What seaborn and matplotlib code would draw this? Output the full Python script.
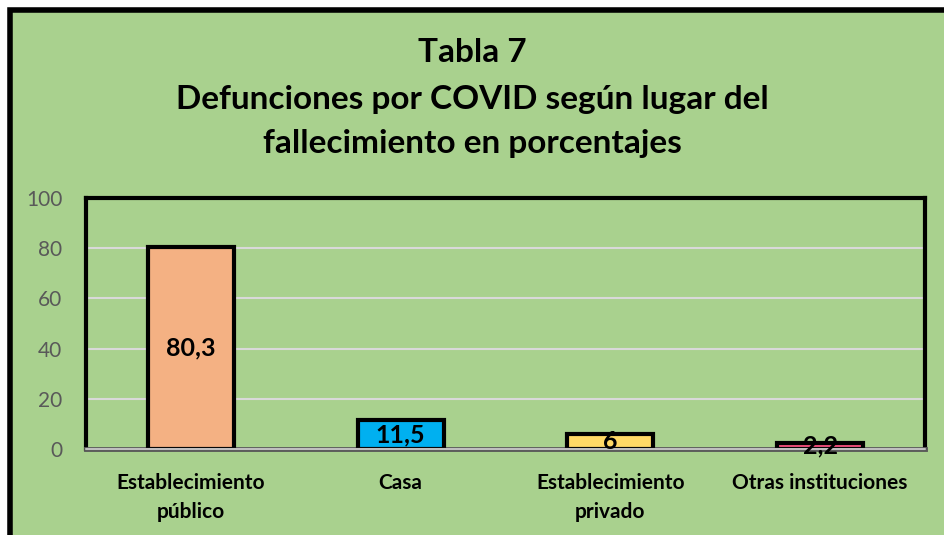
import matplotlib
matplotlib.use("Agg")
import matplotlib.pyplot as plt
import seaborn as sns
import pandas as pd
from matplotlib.patches import Rectangle

sns.set_theme(style="white")
plt.rcParams["font.family"] = ["Lato", "DejaVu Sans"]
plt.rcParams["text.color"] = "black"

# ------------------------------
# Data
# ------------------------------
categories = ["Establecimiento\npúblico", "Casa", "Establecimiento\nprivado", "Otras instituciones"]
values = [80.3, 11.5, 6, 2.2]
value_labels = ["80,3", "11,5", "6", "2,2"]
bar_colors = ["#F4B183", "#00B0F0", "#FFD966", "#F6507E"]
yticks = [0, 20, 40, 60, 80, 100]

df = pd.DataFrame({"lugar": categories, "pct": values})

GREEN = "#A9D18E"

fig = plt.figure(figsize=(9.44, 5.35), dpi=100, facecolor="white")

# outer chart border (cut at right/bottom like the screenshot)
fig.patches.append(Rectangle((10 / 944, -0.2), 1.2, 525 / 535 + 0.2,
                             transform=fig.transFigure, facecolor=GREEN,
                             edgecolor="black", linewidth=4, zorder=-10))

ax = fig.add_axes([86 / 944, 86 / 535, 839 / 944, 251 / 535])
ax.set_facecolor(GREEN)

sns.barplot(data=df, x="lugar", y="pct", hue="lugar", palette=bar_colors,
            saturation=1, legend=False, width=0.41, edgecolor="black",
            linewidth=3, ax=ax, zorder=3)

ax.set_ylim(0, 100)
ax.set_yticks(yticks)
ax.set_yticklabels([str(t) for t in yticks], color="#595959", fontsize=15)
ax.yaxis.grid(True, color="#D9D9D9", linewidth=1.5, zorder=1)
ax.set_axisbelow(True)
ax.tick_params(axis="y", length=0, pad=17)
ax.tick_params(axis="x", length=0, pad=17)
ax.set_xlabel("")
ax.set_ylabel("")
for lab in ax.get_xticklabels():
    lab.set_fontweight("bold")
    lab.set_fontsize(15)
    lab.set_color("black")
    lab.set_linespacing(1.6)

for side in ["top", "left", "right"]:
    ax.spines[side].set_visible(True)
    ax.spines[side].set_color("black")
    ax.spines[side].set_linewidth(3)
ax.spines["bottom"].set_color("#595959")
ax.spines["bottom"].set_linewidth(3.5)
ax.axhline(0, color="#BFBFBF", linewidth=1.5, zorder=5, clip_on=False)

# value labels centred in each bar
for i, (v, txt) in enumerate(zip(values, value_labels)):
    ax.text(i, v / 2, txt, ha="center", va="center", fontsize=18,
            fontweight="bold", color="black", zorder=6)

title_lines = ["Tabla 7", "Defunciones por COVID según lugar del",
               "fallecimiento en porcentajes"]
title_y = [52, 100, 143]
for txt, y in zip(title_lines, title_y):
    fig.text(0.5, 1 - y / 535, txt, ha="center", va="center",
             fontsize=24, fontweight="bold", color="black")

fig.savefig("out.png", dpi=100, facecolor=fig.get_facecolor())
